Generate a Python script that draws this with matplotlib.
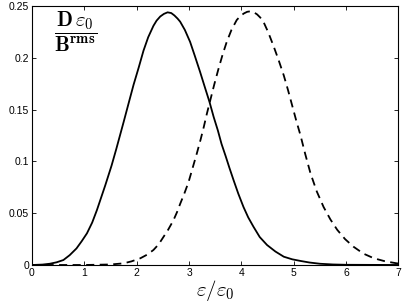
import matplotlib
matplotlib.use("Agg")
import matplotlib.pyplot as plt

plt.rcParams['mathtext.fontset'] = 'cm'
plt.rcParams['font.family'] = ['Liberation Sans', 'DejaVu Sans']

# values
x_solid = [0.0, 0.2, 0.34, 0.47, 0.6, 0.72, 0.85, 0.95, 1.05, 1.15, 1.24,
           1.32, 1.4, 1.46, 1.52, 1.61, 1.68, 1.75, 1.85, 1.94, 2.04, 2.13,
           2.22, 2.32, 2.38, 2.45, 2.52, 2.59, 2.66, 2.72, 2.78, 2.83, 2.92,
           3.02, 3.11, 3.21, 3.3, 3.39, 3.47, 3.55, 3.62, 3.7, 3.77, 3.85,
           3.94, 4.04, 4.13, 4.23, 4.35, 4.49, 4.65, 4.81, 4.97, 5.13, 5.3,
           5.5, 5.75, 6.0, 7.0]
y_solid = [0.0, 0.0004, 0.0012, 0.0026, 0.0048, 0.0095, 0.016, 0.023, 0.0306,
           0.041, 0.053, 0.065, 0.077, 0.0865, 0.096, 0.112, 0.125, 0.138,
           0.157, 0.174, 0.191, 0.207, 0.220, 0.231, 0.236, 0.240, 0.2425,
           0.244, 0.2433, 0.241, 0.238, 0.235, 0.227, 0.2155, 0.202, 0.1866,
           0.172, 0.1576, 0.143, 0.13, 0.117, 0.105, 0.094, 0.082, 0.069,
           0.056, 0.046, 0.037, 0.027, 0.0193, 0.013, 0.008, 0.0055, 0.0039,
           0.0024, 0.0012, 0.0005, 0.0002, 0.0]

x_dash = [0.0, 1.0, 1.5, 1.75, 1.9, 2.07, 2.2, 2.32, 2.42, 2.51, 2.6, 2.7,
          2.77, 2.83, 2.91, 2.99, 3.07, 3.15, 3.22, 3.28, 3.34, 3.4, 3.48,
          3.56, 3.64, 3.72, 3.81, 3.91, 3.98, 4.05, 4.11, 4.17, 4.24, 4.3,
          4.36, 4.42, 4.51, 4.61, 4.71, 4.81, 4.89, 4.97, 5.05, 5.13, 5.22,
          5.32, 5.44, 5.57, 5.7, 5.83, 5.98, 6.14, 6.33, 6.53, 6.75, 6.97, 7.0]
y_dash = [0.0, 0.0, 0.0005, 0.0016, 0.0035, 0.0065, 0.010, 0.0145, 0.020,
          0.027, 0.034, 0.043, 0.051, 0.059, 0.069, 0.080, 0.094, 0.108,
          0.121, 0.133, 0.146, 0.158, 0.174, 0.189, 0.203, 0.2155, 0.227,
          0.2365, 0.2405, 0.243, 0.2445, 0.245, 0.244, 0.242, 0.239, 0.235,
          0.225, 0.212, 0.198, 0.183, 0.169, 0.154, 0.139, 0.125, 0.107,
          0.0885, 0.071, 0.056, 0.044, 0.034, 0.025, 0.0177, 0.011, 0.0065,
          0.0035, 0.0016, 0.0015]

xticks = [0, 1, 2, 3, 4, 5, 6, 7]
yticks = [0, 0.05, 0.1, 0.15, 0.2, 0.25]
ytick_labels = ['0', '0.05', '0.1', '0.15', '0.2', '0.25']

fig = plt.figure(figsize=(4.07, 3.06), dpi=100)
ax = fig.add_axes([0.0786, 0.134, 0.9004, 0.846])

ax.plot(x_solid, y_solid, color='black', lw=1.3)
ax.plot(x_dash, y_dash, color='black', lw=1.3, dashes=(4.5, 3))

ax.set_xlim(0, 7)
ax.set_ylim(0, 0.25)
ax.set_xticks(xticks)
ax.set_xticklabels([str(t) for t in xticks])
ax.set_yticks(yticks)
ax.set_yticklabels(ytick_labels)
ax.tick_params(direction='in', length=3, width=0.6, labelsize=7.5,
               top=True, right=True, pad=2)
for s in ax.spines.values():
    s.set_linewidth(0.8)

ax.set_xlabel(r'$\varepsilon/\varepsilon_{\mathbf{0}}$', fontsize=15, labelpad=0)
ax.text(0.118, 0.9,
        r'$\dfrac{\mathbf{D}\,\varepsilon_{\mathbf{0}}}{\mathbf{B}^{\mathbf{rms}}}$',
        transform=ax.transAxes, ha='center', va='center', fontsize=15)

fig.savefig('out.png', dpi=100)
